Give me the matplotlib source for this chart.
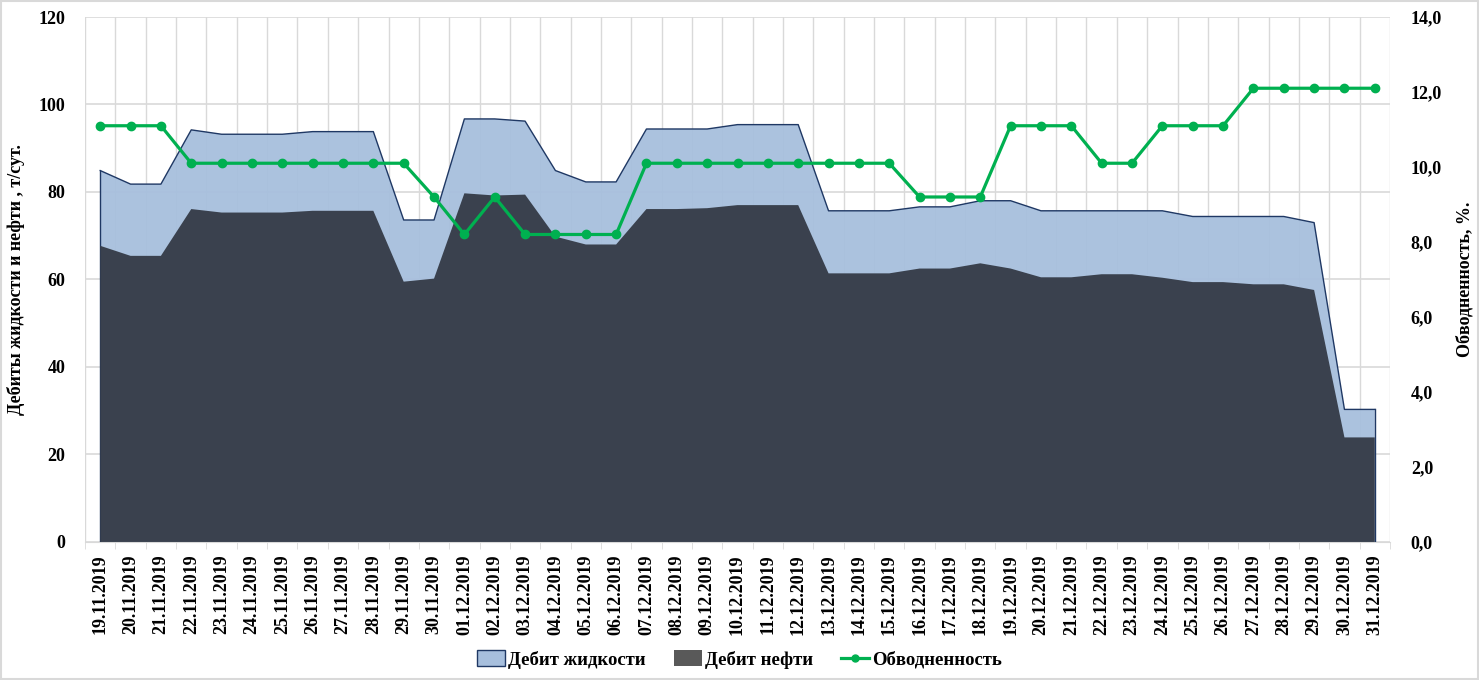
import matplotlib
matplotlib.use("Agg")
import matplotlib.pyplot as plt
from matplotlib.patches import Patch, Rectangle
from matplotlib.lines import Line2D
from matplotlib.ticker import FuncFormatter, MultipleLocator, FixedLocator

plt.rcParams["font.family"] = ["Liberation Serif", "DejaVu Serif"]
plt.rcParams["font.weight"] = "bold"

dates = [
    "19.11.2019", "20.11.2019", "21.11.2019", "22.11.2019", "23.11.2019",
    "24.11.2019", "25.11.2019", "26.11.2019", "27.11.2019", "28.11.2019",
    "29.11.2019", "30.11.2019", "01.12.2019", "02.12.2019", "03.12.2019",
    "04.12.2019", "05.12.2019", "06.12.2019", "07.12.2019", "08.12.2019",
    "09.12.2019", "10.12.2019", "11.12.2019", "12.12.2019", "13.12.2019",
    "14.12.2019", "15.12.2019", "16.12.2019", "17.12.2019", "18.12.2019",
    "19.12.2019", "20.12.2019", "21.12.2019", "22.12.2019", "23.12.2019",
    "24.12.2019", "25.12.2019", "26.12.2019", "27.12.2019", "28.12.2019",
    "29.12.2019", "30.12.2019", "31.12.2019",
]

# дебит жидкости, т/сут
liquid = [
    84.9, 81.8, 81.8, 94.2, 93.2, 93.2, 93.2, 93.8, 93.8, 93.8,
    73.6, 73.6, 96.7, 96.7, 96.2, 84.9, 82.3, 82.3, 94.4, 94.4,
    94.4, 95.4, 95.4, 95.4, 75.7, 75.7, 75.7, 76.6, 76.6, 78.0,
    78.0, 75.7, 75.7, 75.7, 75.7, 75.7, 74.4, 74.4, 74.4, 74.4,
    73.0, 30.3, 30.3,
]

# дебит нефти, т/сут
oil = [
    67.7, 65.4, 65.4, 76.1, 75.3, 75.3, 75.3, 75.7, 75.7, 75.7,
    59.5, 60.2, 79.7, 79.2, 79.4, 69.8, 68.0, 68.0, 76.1, 76.1,
    76.3, 77.0, 77.0, 77.0, 61.4, 61.4, 61.4, 62.5, 62.5, 63.7,
    62.5, 60.5, 60.5, 61.2, 61.2, 60.4, 59.4, 59.4, 58.9, 58.9,
    57.6, 23.9, 23.9,
]

# обводненность, %
water_cut = [
    11.1, 11.1, 11.1, 10.1, 10.1, 10.1, 10.1, 10.1, 10.1, 10.1,
    10.1, 9.2, 8.2, 9.2, 8.2, 8.2, 8.2, 8.2, 10.1, 10.1,
    10.1, 10.1, 10.1, 10.1, 10.1, 10.1, 10.1, 9.2, 9.2, 9.2,
    11.1, 11.1, 11.1, 10.1, 10.1, 11.1, 11.1, 11.1, 12.1, 12.1,
    12.1, 12.1, 12.1,
]

LIQ_FILL = "#A7BFDD"
LIQ_EDGE = "#1F3864"
OIL_FILL = "#363D49"
GREEN = "#00B050"
GRID = "#D9D9D9"
FS = 13

x = list(range(len(dates)))

fig = plt.figure(figsize=(14.79, 6.8), dpi=100)
ax = fig.add_axes([0.0575, 0.203, 0.8823, 0.772])

ax.fill_between(x, liquid, 0, facecolor=LIQ_FILL, edgecolor="none", alpha=0.95, zorder=2)
ax.plot(x, liquid, color=LIQ_EDGE, linewidth=1.0, zorder=3)
ax.plot([x[0], x[0]], [0, liquid[0]], color=LIQ_EDGE, linewidth=1.0, zorder=3)
ax.plot([x[-1], x[-1]], [0, liquid[-1]], color=LIQ_EDGE, linewidth=1.0, zorder=3)
ax.fill_between(x, oil, 0, facecolor=OIL_FILL, edgecolor="none", alpha=0.97, zorder=4)

ax.set_xlim(-0.5, len(dates) - 0.5)
ax.set_ylim(0, 120)
ax.yaxis.set_major_locator(MultipleLocator(20))
ax.set_xticks(x)
ax.set_xticklabels(dates, rotation=90, fontsize=FS, fontweight="bold")
ax.xaxis.set_minor_locator(FixedLocator([i - 0.5 for i in range(len(dates) + 1)]))
ax.tick_params(axis="x", which="major", length=0, pad=9)
ax.tick_params(axis="x", which="minor", length=5, color=GRID)
ax.tick_params(axis="y", length=0, pad=14, labelsize=FS)
for lbl in ax.get_yticklabels():
    lbl.set_fontweight("bold")

ax.grid(True, axis="y", which="major", color=GRID, linewidth=1.2, zorder=0)
ax.grid(True, axis="x", which="minor", color=GRID, linewidth=1.0, zorder=0)
ax.set_axisbelow(True)
for s in ["top", "left", "right"]:
    ax.spines[s].set_visible(False)
ax.spines["bottom"].set_color(GRID)

ax.set_ylabel("Дебиты жидкости и нефти , т/сут.", fontsize=FS, fontweight="bold", labelpad=10)

ax2 = ax.twinx()
ax2.plot(x, water_cut, color=GREEN, linewidth=2.3, marker="o", markersize=6, zorder=5)
ax2.set_ylim(0, 14)
ax2.yaxis.set_major_locator(MultipleLocator(2))
ax2.yaxis.set_major_formatter(FuncFormatter(lambda v, p: f"{v:.1f}".replace(".", ",")))
ax2.tick_params(axis="y", length=0, pad=15, labelsize=FS)
for lbl in ax2.get_yticklabels():
    lbl.set_fontweight("bold")
for s in ["top", "left", "right", "bottom"]:
    ax2.spines[s].set_visible(False)
ax2.set_ylabel("Обводненность, %.", fontsize=FS, fontweight="bold", labelpad=10)

handles = [
    Patch(facecolor=LIQ_FILL, edgecolor=LIQ_EDGE, linewidth=1.0, label="Дебит жидкости"),
    Patch(facecolor="#595959", edgecolor="none", label="Дебит нефти"),
    Line2D([], [], color=GREEN, linewidth=2.3, marker="o", markersize=5, label="Обводненность"),
]
fig.legend(handles=handles, loc="center", bbox_to_anchor=(0.5, 0.03), ncol=3,
           frameon=False, handlelength=1.5, handleheight=0.9,
           handletextpad=0.15, columnspacing=1.5, prop={"weight": "bold", "size": 13.5})

fig.patches.append(Rectangle((0.001, 0.001), 0.998, 0.997, transform=fig.transFigure,
                             fill=False, edgecolor=GRID, linewidth=1.5))

fig.savefig("out.png", dpi=100)
